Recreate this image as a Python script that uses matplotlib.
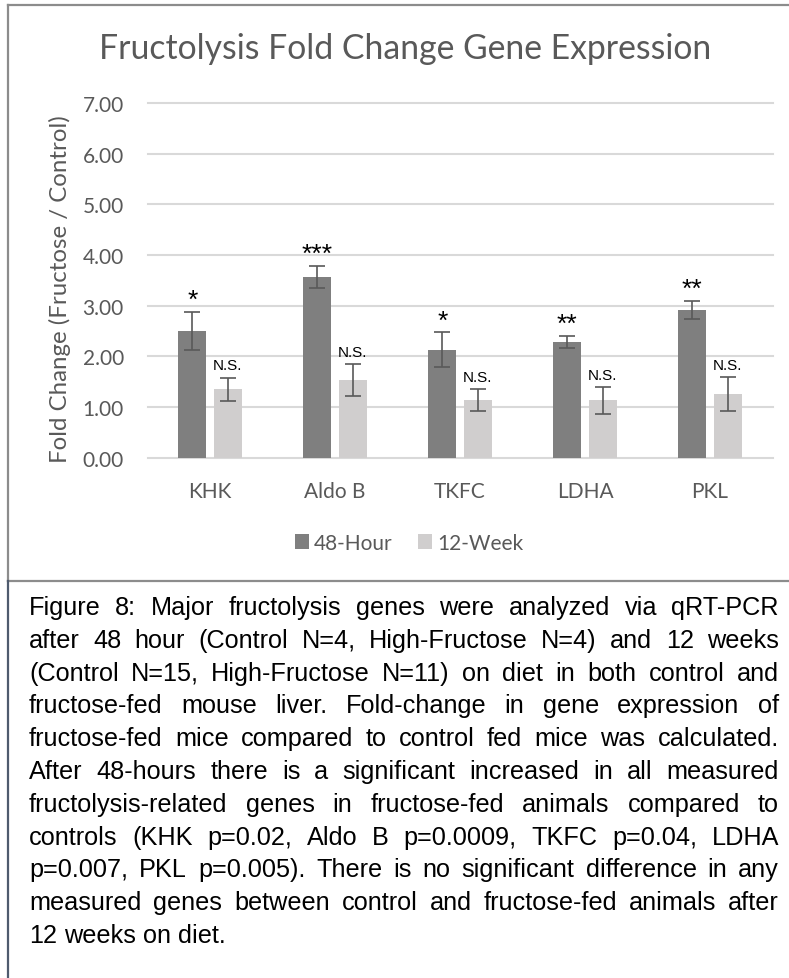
import matplotlib
matplotlib.use("Agg")
import matplotlib.pyplot as plt
import numpy as np
from matplotlib.lines import Line2D
from matplotlib.patches import Patch

# ---------------- data ----------------
genes = ["KHK", "Aldo B", "TKFC", "LDHA", "PKL"]
series_names = ["48-Hour", "12-Week"]
fold_48h = [2.50, 3.57, 2.13, 2.28, 2.91]
err_48h = [0.38, 0.22, 0.34, 0.12, 0.18]
fold_12w = [1.35, 1.53, 1.14, 1.13, 1.26]
err_12w = [0.23, 0.31, 0.21, 0.265, 0.33]
sig_48h = ["*", "***", "*", "**", "**"]
sig_12w = ["N.S.", "N.S.", "N.S.", "N.S.", "N.S."]
yticks = [0, 1, 2, 3, 4, 5, 6, 7]
title = "Fructolysis Fold Change Gene Expression"
ylabel = "Fold Change (Fructose / Control)"
caption_lines = [
    "Figure 8: Major fructolysis genes were analyzed via qRT-PCR",
    "after 48 hour (Control N=4, High-Fructose N=4) and 12 weeks",
    "(Control N=15, High-Fructose N=11) on diet in both control and",
    "fructose-fed mouse liver. Fold-change in gene expression of",
    "fructose-fed mice compared to control fed mice was calculated.",
    "After 48-hours there is a significant increased in all measured",
    "fructolysis-related genes in fructose-fed animals compared to",
    "controls (KHK p=0.02, Aldo B p=0.0009, TKFC p=0.04, LDHA",
    "p=0.007, PKL p=0.005). There is no significant difference in any",
    "measured genes between control and fructose-fed animals after",
    "12 weeks on diet.",
]

# ---------------- figure ----------------
W, H = 789, 979
fig = plt.figure(figsize=(W / 100, H / 100), dpi=100)
fig.patch.set_facecolor("white")

def fx(px):
    return px / W

def fy(py):
    return 1 - py / H

TXT = "#595959"
DARK = "#7f7f7f"
LIGHT = "#d0cece"
GRID = "#d9d9d9"

ax = fig.add_axes([fx(147.5), fy(458.7), (772.5 - 147.5) / W, (458.7 - 103.8) / H])
x = np.arange(len(genes))
bw = 0.222
off = 0.142
ekw = dict(ecolor="#595959", elinewidth=1.2, capsize=6.0, capthick=1.2)
ax.bar(x - off, fold_48h, bw, color=DARK, yerr=err_48h, error_kw=ekw, zorder=3,
       label=series_names[0])
ax.bar(x + off, fold_12w, bw, color=LIGHT, yerr=err_12w, error_kw=ekw, zorder=3,
       label=series_names[1])

ax.set_xlim(-0.5, len(genes) - 0.5)
ax.set_ylim(0, 7)
ax.set_yticks(yticks)
ax.set_yticklabels([f"{v:.2f}" for v in yticks])
ax.set_xticks(x)
ax.set_xticklabels(genes)
for s in ax.spines.values():
    s.set_visible(False)
ax.tick_params(axis="both", length=0, colors=TXT, labelsize=15)
ax.tick_params(axis="y", pad=17)
ax.tick_params(axis="x", pad=17)
for lab in ax.get_xticklabels() + ax.get_yticklabels():
    lab.set_fontfamily("Lato")
ax.yaxis.grid(True, color=GRID, linewidth=1.5, zorder=0)
ax.set_axisbelow(True)
for gl in ax.get_ygridlines():
    gl.set_clip_on(False)

# significance labels
for i in range(len(genes)):
    ax.annotate(sig_48h[i], (x[i] - off, fold_48h[i] + err_48h[i]), xytext=(0, 3.5),
                textcoords="offset points", ha="center", va="baseline",
                fontsize=19, family="Liberation Sans", color="black")
    ax.annotate(sig_12w[i], (x[i] + off, fold_12w[i] + err_12w[i]), xytext=(0, 6),
                textcoords="offset points", ha="center", va="baseline",
                fontsize=11, family="Liberation Sans", color="black")

# title, y label
fig.text(fx(405), fy(49), title, ha="center", va="center", fontsize=24.3,
         family="Lato", color=TXT)
fig.text(fx(60), fy(289), ylabel, ha="center", va="center", rotation=90,
         fontsize=17.3, family="Lato", color=TXT)

# legend
handles = [Patch(facecolor=DARK), Patch(facecolor=LIGHT)]
fig.legend(handles, series_names, loc="center", bbox_to_anchor=(fx(409), fy(544)),
           ncol=2, frameon=False, prop=dict(family="Lato", size=15),
           handlelength=0.68, handleheight=0.72, handletextpad=0.25,
           columnspacing=1.2, labelcolor=TXT)

# borders
BORDER = "#8c8c8c"
fig.add_artist(Line2D([fx(8), fx(789)], [fy(6), fy(6)], color=BORDER, lw=1.6))
fig.add_artist(Line2D([fx(8), fx(8)], [fy(6), fy(582)], color=BORDER, lw=1.6))
fig.add_artist(Line2D([fx(8), fx(789)], [fy(582), fy(582)], color=BORDER, lw=1.6))
fig.add_artist(Line2D([fx(8), fx(8)], [fy(582), fy(979)], color="#4f5b6e", lw=1.6))

# caption (justified)
fig.canvas.draw()
renderer = fig.canvas.get_renderer()
left, right = 29, 779
cap_size = 18.2
for i, line in enumerate(caption_lines):
    words = line.split(" ")
    ybase = fy(615 + 32.8 * i)
    texts = [fig.text(0, ybase, w, fontsize=cap_size, family="Liberation Sans",
                      color="black", va="baseline", ha="left") for w in words]
    widths = [t.get_window_extent(renderer).width for t in texts]
    if i == len(caption_lines) - 1 or len(words) == 1:
        gap = 0.278 * cap_size * 100 / 72
    else:
        gap = (right - left - sum(widths)) / (len(words) - 1)
    cx = left
    for t, w in zip(texts, widths):
        t.set_x(fx(cx))
        cx += w + gap

fig.savefig("out.png", dpi=100)
